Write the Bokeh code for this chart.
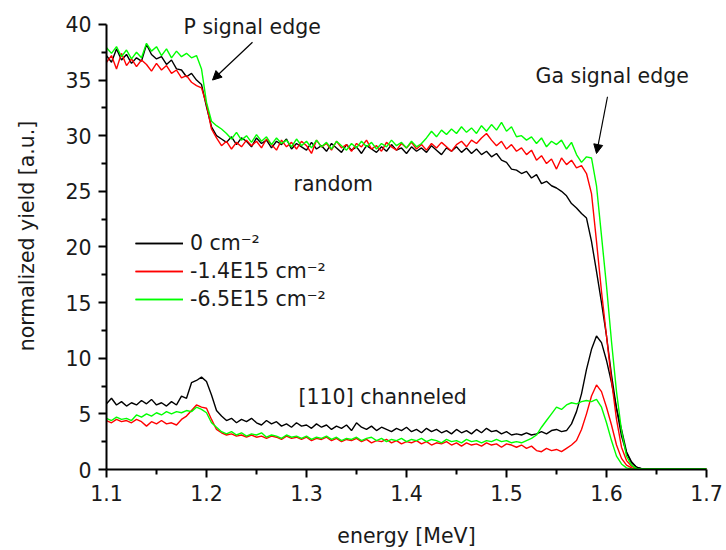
from bokeh.plotting import figure
from bokeh.models import (Range1d, FixedTicker, Arrow, NormalHead, Legend, LegendItem,
                          Label, ColumnDataSource)
from bokeh.embed import file_html
from bokeh.resources import INLINE

# ---------------- data ----------------
energy = [1.100, 1.105, 1.110, 1.115, 1.120, 1.125, 1.130, 1.135, 1.140, 1.145,
          1.150, 1.155, 1.160, 1.165, 1.170, 1.175, 1.180, 1.185, 1.190, 1.195,
          1.200, 1.205, 1.210, 1.215, 1.220, 1.225, 1.230, 1.235, 1.240, 1.245,
          1.250, 1.255, 1.260, 1.265, 1.270, 1.275, 1.280, 1.285, 1.290, 1.295,
          1.300, 1.305, 1.310, 1.315, 1.320, 1.325, 1.330, 1.335, 1.340, 1.345,
          1.350, 1.355, 1.360, 1.365, 1.370, 1.375, 1.380, 1.385, 1.390, 1.395,
          1.400, 1.405, 1.410, 1.415, 1.420, 1.425, 1.430, 1.435, 1.440, 1.445,
          1.450, 1.455, 1.460, 1.465, 1.470, 1.475, 1.480, 1.485, 1.490, 1.495,
          1.500, 1.505, 1.510, 1.515, 1.520, 1.525, 1.530, 1.535, 1.540, 1.545,
          1.550, 1.555, 1.560, 1.565, 1.570, 1.575, 1.580, 1.585, 1.590, 1.595,
          1.600, 1.605, 1.610, 1.615, 1.620, 1.625, 1.630, 1.635, 1.640, 1.645,
          1.650, 1.655, 1.660, 1.665, 1.670, 1.675, 1.680, 1.685, 1.690, 1.695,
          1.700]

random_0 = [37.2, 36.6, 37.8, 36.8, 37.3, 36.5, 37.0, 36.7, 38.2, 37.3,
            36.9, 37.1, 36.4, 36.8, 36.0, 35.9, 35.3, 35.6, 35.0, 34.6,
            32.6, 30.8, 30.0, 29.7, 29.4, 29.9, 29.2, 29.8, 29.5, 29.0,
            29.8, 29.3, 29.6, 28.9, 29.5, 29.2, 29.7, 28.8, 29.3, 29.0,
            28.7, 29.4, 28.8, 29.1, 28.6, 29.3, 28.9, 28.5, 29.2, 28.7,
            29.0, 28.4, 29.1, 28.8, 28.5, 29.0, 28.6, 29.2, 28.7, 28.9,
            28.4, 29.0, 28.6, 28.9, 28.5, 29.1, 28.7, 28.3, 28.9, 28.6,
            29.0, 28.5, 28.9, 28.4, 28.8, 28.3, 28.6, 28.1, 28.4, 27.8,
            27.6, 27.0, 26.9, 26.6, 26.8, 26.2, 26.5, 25.7, 25.9, 25.5,
            25.3, 25.0, 24.6, 23.9, 23.5, 23.0, 22.6, 20.5, 17.8, 15.0,
            12.0, 8.5, 5.5, 3.0, 1.5, 0.6, 0.2, 0.08, 0.05, 0.05,
            0.05, 0.05, 0.05, 0.05, 0.05, 0.05, 0.05, 0.05, 0.05, 0.05,
            0.05]

random_14 = [36.6, 37.2, 36.0, 37.4, 36.3, 36.9, 36.2, 36.8, 36.4, 35.8,
             36.5, 35.9, 36.3, 35.6, 35.9, 35.2, 35.4, 34.8, 34.5, 34.3,
             32.8, 30.6, 29.8, 29.1, 29.5, 28.8, 29.4, 29.0, 29.6, 29.1,
             29.5, 28.9, 29.7, 29.2, 28.7, 29.6, 29.0, 29.4, 28.8, 29.5,
             29.1, 28.4, 29.6, 29.0, 29.3, 28.7, 29.5, 28.9, 29.2, 28.6,
             29.3, 29.0, 29.6, 28.8, 29.1, 28.6, 29.4, 29.0, 28.7, 29.3,
             28.9, 29.4, 28.8, 29.2, 28.7, 29.3, 28.9, 29.4, 29.0, 28.6,
             29.2, 29.5, 29.0, 29.6, 29.3, 29.8, 30.2, 29.6, 29.1, 29.5,
             28.8, 29.2, 28.6, 28.9, 28.3, 28.7, 27.8, 28.2, 27.5, 27.9,
             27.0, 28.0, 27.4, 27.8, 27.1, 27.3, 26.6, 24.8, 20.5, 16.0,
             12.0, 8.0, 4.5, 2.0, 0.8, 0.3, 0.1, 0.05, 0.05, 0.05,
             0.05, 0.05, 0.05, 0.05, 0.05, 0.05, 0.05, 0.05, 0.05, 0.05,
             0.05]

random_65 = [37.9, 37.4, 38.0, 37.1, 37.7, 36.9, 37.5, 37.0, 38.3, 37.6,
             38.0, 37.2, 37.8, 37.0, 37.6, 37.1, 37.4, 37.0, 37.2, 36.0,
             33.0, 31.3, 30.9, 30.6, 30.2, 29.7, 30.3, 29.6, 30.0, 29.4,
             30.1, 29.5, 29.9, 29.2, 29.8, 29.3, 29.6, 29.0, 29.7, 29.1,
             29.5, 28.9, 29.6, 29.0, 29.4, 28.8, 29.5, 29.1, 28.7, 29.3,
             28.9, 29.5, 29.0, 29.4, 28.8, 29.3, 29.0, 29.6, 29.1, 29.4,
             28.9, 29.5, 29.0, 29.3, 29.8, 30.4, 29.9, 30.5, 30.1, 30.6,
             30.2, 30.8, 30.3, 30.7, 30.2, 30.9, 30.4, 31.0, 30.5, 31.2,
             30.4, 30.8, 29.9, 30.0, 29.6, 29.9, 29.3, 29.8, 29.0, 29.5,
             29.2, 29.6, 28.8, 29.4, 28.3, 27.6, 28.1, 28.0, 25.5, 21.0,
             16.5, 11.5, 7.0, 3.5, 1.2, 0.4, 0.1, 0.05, 0.05, 0.05,
             0.05, 0.05, 0.05, 0.05, 0.05, 0.05, 0.05, 0.05, 0.05, 0.05,
             0.05]

chan_0 = [5.9, 6.4, 5.8, 6.1, 5.7, 6.0, 5.8, 6.2, 5.9, 6.3,
          5.8, 6.0, 5.7, 6.1, 5.8, 6.6, 6.4, 7.8, 8.0, 8.3,
          7.9, 6.7, 5.3, 4.8, 4.4, 4.6, 4.2, 4.5, 4.3, 4.6,
          4.2, 4.0, 4.4, 4.1, 4.3, 3.9, 4.1, 3.8, 4.2, 3.9,
          4.0, 3.7, 4.1, 3.8, 4.0, 3.6, 3.9, 3.7, 4.0, 3.5,
          4.2, 3.8, 3.6, 3.9, 3.5, 3.8, 3.6, 3.4, 3.7, 3.5,
          3.8, 3.4, 3.6, 3.3, 3.7, 3.4, 3.6, 3.3, 3.5, 3.2,
          3.6, 3.3, 3.5, 3.2, 3.6, 3.3, 3.7, 3.4, 3.5, 3.2,
          3.4, 3.1, 3.2, 3.1, 3.3, 3.1, 3.2, 3.4, 3.2, 3.5,
          3.6, 3.4, 3.5, 4.1, 5.2, 6.8, 9.0, 10.8, 12.0, 11.4,
          9.8, 7.8, 5.5, 3.6, 1.6, 0.7, 0.2, 0.08, 0.05, 0.05,
          0.05, 0.05, 0.05, 0.05, 0.05, 0.05, 0.05, 0.05, 0.05, 0.05,
          0.05]

chan_14 = [4.4, 4.2, 4.5, 4.3, 4.4, 4.2, 4.5, 4.3, 3.9, 4.3,
           4.1, 4.4, 4.1, 4.2, 4.0, 4.5, 4.8, 5.3, 5.8, 5.6,
           5.5, 4.5, 3.6, 3.3, 3.1, 3.2, 3.0, 3.1, 2.9, 3.1,
           2.9, 3.0, 2.8, 3.0, 2.9, 2.7, 3.0, 2.8, 2.9, 2.7,
           2.9, 2.6, 2.8, 2.7, 2.9, 2.6, 2.8, 2.5, 2.7, 2.6,
           2.8, 2.5, 2.7, 2.4, 2.6, 2.5, 2.7, 2.4, 2.6, 2.3,
           2.5, 2.4, 2.6, 2.3, 2.5, 2.2, 2.4, 2.3, 2.5, 2.2,
           2.4, 2.1, 2.4, 2.2, 2.3, 2.1, 2.4, 2.2, 2.3, 2.0,
           2.3, 2.2, 2.0, 2.2, 1.9, 2.1, 1.7, 1.6, 1.9, 1.7,
           1.8, 1.6, 1.9, 2.2, 2.6, 3.6, 5.0, 6.6, 7.6, 7.0,
           5.6, 4.0, 2.2, 1.0, 0.4, 0.15, 0.05, 0.05, 0.05, 0.05,
           0.05, 0.05, 0.05, 0.05, 0.05, 0.05, 0.05, 0.05, 0.05, 0.05,
           0.05]

chan_65 = [4.6, 4.4, 4.7, 4.5, 4.6, 4.4, 4.9, 4.7, 5.0, 4.8,
           5.1, 4.9, 5.2, 5.0, 5.2, 5.1, 5.3, 5.2, 5.6, 5.4,
           5.1, 4.2, 3.8, 3.4, 3.2, 3.4, 3.1, 3.3, 3.0, 3.2,
           3.1, 3.3, 2.9, 3.1, 3.0, 2.8, 3.1, 2.9, 3.0, 2.8,
           3.0, 2.7, 2.9, 2.8, 3.0, 2.7, 2.9, 2.6, 2.8, 2.7,
           2.9, 2.6, 2.8, 2.9, 2.6, 2.8, 2.5, 2.7, 2.6, 2.8,
           2.5, 2.7, 2.6, 2.8, 2.5, 2.7, 2.6, 2.4, 2.7, 2.5,
           2.6, 2.4, 2.7, 2.5, 2.6, 2.4, 2.6, 2.5, 2.7, 2.5,
           2.6, 2.4, 2.5, 2.4, 2.6, 2.8, 3.1, 3.8, 4.4, 5.0,
           5.6, 5.4, 5.8, 6.0, 5.9, 6.1, 6.2, 6.1, 6.3, 5.6,
           4.2, 2.6, 1.2, 0.5, 0.15, 0.05, 0.05, 0.05, 0.05, 0.05,
           0.05, 0.05, 0.05, 0.05, 0.05, 0.05, 0.05, 0.05, 0.05, 0.05,
           0.05]

series_labels = ["0 cm\u207b\u00b2", "-1.4E15 cm\u207b\u00b2", "-6.5E15 cm\u207b\u00b2"]
series_colors = ["#000000", "#ff0000", "#00ff00"]

x_ticks = [1.1, 1.2, 1.3, 1.4, 1.5, 1.6, 1.7]
x_minor = [1.15, 1.25, 1.35, 1.45, 1.55, 1.65]
y_ticks = [0, 5, 10, 15, 20, 25, 30, 35, 40]
y_minor = [2.5, 7.5, 12.5, 17.5, 22.5, 27.5, 32.5, 37.5]

FONT = "DejaVu Sans"
TXT = "#1a1a1a"
FS = "20.5px"

# ---------------- figure ----------------
# y range extends a little above 40 so the top annotation is not clipped;
# the axis line itself is bounded to 0..40
p = figure(width=726, height=550, output_backend="svg", toolbar_location=None,
           x_range=Range1d(1.1, 1.7), y_range=Range1d(0, 41.97),
           min_border_left=106, min_border_right=20, min_border_top=2,
           min_border_bottom=81)
p.outline_line_color = None
p.xgrid.visible = False
p.ygrid.visible = False
p.background_fill_color = "white"
p.border_fill_color = "white"

src = ColumnDataSource(dict(e=energy, r0=random_0, r14=random_14, r65=random_65,
                            c0=chan_0, c14=chan_14, c65=chan_65))
lw = 1.4
items = []
for rk, ck, lab, col in zip(["r0", "r14", "r65"], ["c0", "c14", "c65"],
                            series_labels, series_colors):
    g1 = p.line("e", rk, source=src, line_color=col, line_width=lw)
    g2 = p.line("e", ck, source=src, line_color=col, line_width=lw)
    items.append(LegendItem(label=lab, renderers=[g1, g2]))

legend = Legend(items=items, location=(29, 158), border_line_color=None,
                background_fill_alpha=0, padding=0, margin=0, spacing=4,
                glyph_width=48, glyph_height=22, label_standoff=7,
                label_text_font=FONT, label_text_font_size=FS,
                label_text_color=TXT, label_height=22)
p.add_layout(legend, "center")

for ax in (p.xaxis[0], p.yaxis[0]):
    ax.axis_line_width = 2
    ax.axis_line_color = "black"
    ax.major_tick_line_width = 2
    ax.minor_tick_line_width = 2
    ax.major_tick_out = 8
    ax.major_tick_in = 0
    ax.minor_tick_out = 5
    ax.minor_tick_in = 0
    ax.major_label_text_font = FONT
    ax.major_label_text_font_size = FS
    ax.major_label_text_color = TXT
    ax.axis_label_text_font = FONT
    ax.axis_label_text_font_size = FS
    ax.axis_label_text_font_style = "normal"
    ax.axis_label_text_color = TXT

p.yaxis.bounds = (0, 40)
p.xaxis.ticker = FixedTicker(ticks=x_ticks, minor_ticks=x_minor)
p.yaxis.ticker = FixedTicker(ticks=y_ticks, minor_ticks=y_minor)
p.xaxis.major_label_overrides = {t: f"{t:.1f}" for t in x_ticks}
p.xaxis.axis_label = "energy [MeV]"
p.yaxis.axis_label = "normalized yield [a.u.]"
p.xaxis.major_label_standoff = 7
p.yaxis.major_label_standoff = 7
p.xaxis.axis_label_standoff = 20
p.yaxis.axis_label_standoff = 23

def add_text(x, y, t):
    p.add_layout(Label(x=x, y=y, text=t, text_font=FONT, text_font_size=FS,
                       text_color=TXT, text_baseline="middle", text_align="left"))

add_text(1.177, 39.8, "P signal edge")
add_text(1.529, 35.4, "Ga signal edge")
add_text(1.287, 25.7, "random")
add_text(1.292, 6.5, "[110] channeled")

head = dict(size=9, fill_color="black", line_color="black")
p.add_layout(Arrow(end=NormalHead(**head), x_start=1.246, y_start=38.4,
                   x_end=1.206, y_end=35.0, line_width=1.2))
p.add_layout(Arrow(end=NormalHead(**head), x_start=1.601, y_start=33.5,
                   x_end=1.590, y_end=28.4, line_width=1.2))

open("out.html", "w").write(file_html(p, INLINE))
